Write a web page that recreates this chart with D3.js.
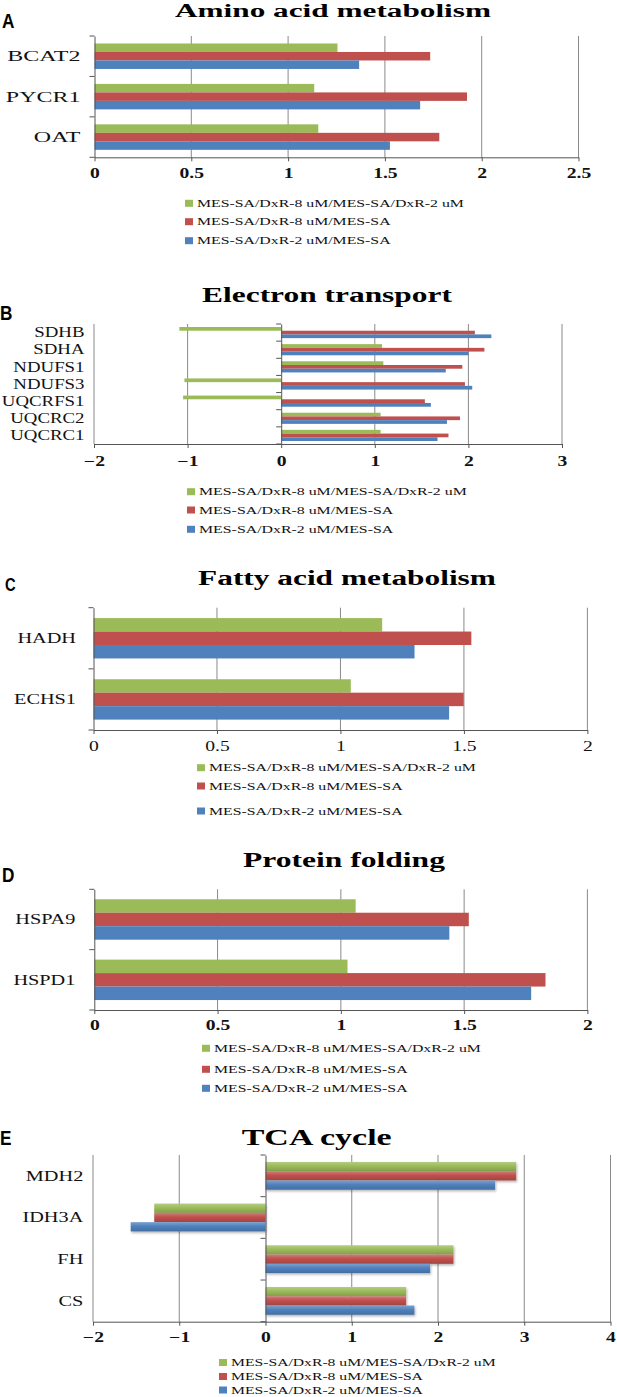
<!DOCTYPE html>
<html><head><meta charset="utf-8">
<script src="https://cdn.jsdelivr.net/npm/d3@7"></script>
<style>html,body{margin:0;padding:0;background:#fff}svg{display:block}</style>
</head><body>
<svg id="chart" width="617" height="1397"></svg>
<script>
// ---------- DATA ----------
const seriesNames = ["MES-SA/DxR-8 uM/MES-SA/DxR-2 uM", "MES-SA/DxR-8 uM/MES-SA", "MES-SA/DxR-2 uM/MES-SA"];
const seriesColors = ["#9BBB59", "#C0504D", "#4F81BD"];

const titleA = "Amino acid metabolism";
const catsA = ["BCAT2", "PYCR1", "OAT"];
const greenA = [1.255, 1.135, 1.156];
const redA = [1.734, 1.924, 1.781];
const blueA = [1.367, 1.682, 1.526];
const ticksA = [0, 0.5, 1, 1.5, 2, 2.5];

const titleB = "Electron transport";
const catsB = ["SDHB", "SDHA", "NDUFS1", "NDUFS3", "UQCRFS1", "UQCRC2", "UQCRC1"];
const greenB = [-1.088, 1.077, 1.091, -1.034, -1.048, 1.062, 1.062];
const redB = [2.069, 2.171, 1.935, 1.963, 1.535, 1.91, 1.787];
const blueB = [2.245, 2.0, 1.758, 2.041, 1.599, 1.771, 1.67];
const ticksB = [-2, -1, 0, 1, 2, 3];

const titleC = "Fatty acid metabolism";
const catsC = ["HADH", "ECHS1"];
const greenC = [1.169, 1.042];
const redC = [1.53, 1.499];
const blueC = [1.30, 1.44];
const ticksC = [0, 0.5, 1, 1.5, 2];

const titleD = "Protein folding";
const catsD = ["HSPA9", "HSPD1"];
const greenD = [1.06, 1.027];
const redD = [1.519, 1.83];
const blueD = [1.44, 1.772];
const ticksD = [0, 0.5, 1, 1.5, 2];

const titleE = "TCA cycle";
const catsE = ["MDH2", "IDH3A", "FH", "CS"];
const greenE = [2.906, -1.29, 2.179, 1.63];
const redE = [2.906, -1.29, 2.179, 1.63];
const blueE = [2.662, -1.563, 1.908, 1.726];
const ticksE = [-2, -1, 0, 1, 2, 3, 4];

// ---------- LAYOUT ----------
const svg = d3.select("#chart");
svg.append("rect").attr("width", 617).attr("height", 1397).attr("fill", "#fff");
const defs = svg.append("defs");
seriesColors.forEach((c, i) => {
  const g = defs.append("linearGradient").attr("id", "grad" + i).attr("x1", 0).attr("y1", 0).attr("x2", 0).attr("y2", 1);
  g.append("stop").attr("offset", "0%").attr("stop-color", d3.interpolateRgb(c, "#fff")(0.25));
  g.append("stop").attr("offset", "45%").attr("stop-color", c);
  g.append("stop").attr("offset", "100%").attr("stop-color", d3.interpolateRgb(c, "#000")(0.15));
});
const shadow = defs.append("filter").attr("id", "shadow").attr("x", "-5%").attr("y", "-20%").attr("width", "115%").attr("height", "160%");
shadow.append("feDropShadow").attr("dx", 1).attr("dy", 1.5).attr("stdDeviation", 1).attr("flood-color", "#000").attr("flood-opacity", 0.3);

const SERIF = "'Liberation Serif', 'Times New Roman', serif";

function stretchText(g, x, y, str, o) {
  const t = g.append("text")
    .attr("font-family", o.family || SERIF)
    .attr("font-size", o.size)
    .attr("font-weight", o.weight || "normal")
    .attr("text-anchor", o.anchor || "start")
    .attr("dominant-baseline", o.baseline || "auto")
    .attr("fill", o.fill || "#111")
    .text(str);
  let sx = o.sx || 1;
  if (o.width) sx = o.width / t.node().getComputedTextLength();
  t.attr("transform", `translate(${x},${y}) scale(${sx},1)`);
  return sx;
}

function panel(p) {
  const g = svg.append("g");
  const x = d3.scaleLinear().domain([p.ticks[0], p.ticks[p.ticks.length - 1]]).range([p.x0, p.x1]);
  const y = d3.scaleBand().domain(p.cats).range([p.top, p.bottom]).padding(0);
  const bw = y.bandwidth();
  const inner = d3.scaleBand().domain([0, 1, 2]).range([bw * (1 - p.frac) / 2, bw * (1 + p.frac) / 2]).padding(0);

  // gridlines
  g.append("g").selectAll("line").data(p.ticks.filter(t => t !== 0)).join("line")
    .attr("x1", d => x(d)).attr("x2", d => x(d))
    .attr("y1", p.top).attr("y2", p.bottom)
    .attr("stroke", "#8a8a8a").attr("stroke-width", 1);

  // bars
  const series = [p.green, p.red, p.blue];
  series.forEach((vals, si) => {
    g.append("g").selectAll("rect").data(vals).join("rect")
      .attr("x", d => x(Math.min(0, d)))
      .attr("width", d => Math.abs(x(d) - x(0)))
      .attr("y", (d, i) => y(p.cats[i]) + inner(si))
      .attr("height", inner.bandwidth())
      .attr("fill", p.gradient ? `url(#grad${si})` : seriesColors[si])
      .attr("filter", p.gradient ? "url(#shadow)" : null);
  });

  // bottom axis
  const ax = g.append("g").attr("transform", `translate(0,${p.bottom})`)
    .call(d3.axisBottom(x).tickValues(p.ticks).tickSize(4).tickSizeOuter(0).tickFormat(d3.format("")));
  ax.select(".domain").attr("stroke", "#555");
  ax.selectAll(".tick line").attr("stroke", "#555");
  ax.selectAll(".tick text")
    .attr("font-family", SERIF).attr("font-size", 14)
    .attr("font-weight", p.tickWeight).attr("fill", "#111")
    .attr("y", p.tickDy).attr("dy", "0.35em")
    .attr("transform", `scale(${p.tickSx},1)`);

  // category axis at x=0
  const ay = g.append("g").attr("transform", `translate(${x(0)},0)`)
    .call(d3.axisLeft(y).tickSize(0).tickSizeOuter(0).tickFormat(""));
  ay.select(".domain").attr("stroke", "#555");
  const bounds = p.cats.map(c => y(c)).concat([p.bottom]);
  g.append("g").selectAll("line").data(bounds).join("line")
    .attr("x1", x(0) - 5).attr("x2", x(0))
    .attr("y1", d => d).attr("y2", d => d)
    .attr("stroke", "#555");

  // category labels
  p.cats.forEach(c => {
    stretchText(g, p.labelX, y(c) + bw / 2, c, { size: p.labelSize || 14.5, sx: p.labelSx || 1.4, anchor: "end", baseline: "central" });
  });

  // title
  stretchText(g, p.titleX, p.titleY, p.title, { size: p.titleSize, weight: "bold", anchor: "middle", width: p.titleW, fill: "#000" });

  // panel letter
  stretchText(g, p.letterX, p.letterY, p.letter, { family: "'Liberation Sans', Arial, sans-serif", size: p.letterSize || 21, weight: "bold", sx: 0.82, fill: "#000" });

  // legend
  let lsx = null;
  seriesNames.forEach((nm, i) => {
    const cy = p.legY[i];
    g.append("rect").attr("x", p.legX).attr("y", cy - 3.5).attr("width", 8).attr("height", 7).attr("fill", seriesColors[i]);
    const s = stretchText(g, p.legX + 12, cy, nm, { size: p.legSize || 11, anchor: "start", baseline: "central", width: i === 0 ? p.legW : null, sx: lsx });
    if (i === 0) lsx = s;
  });
}

panel({ letter: "A", letterX: 2, letterY: 28, title: titleA, titleX: 333, titleY: 17, titleSize: 19, titleW: 316,
  cats: catsA, green: greenA, red: redA, blue: blueA, ticks: ticksA,
  x0: 94.5, x1: 578.5, top: 36, bottom: 157.3, frac: 0.63, labelX: 80.5, labelSize: 15, labelSx: 1.6,
  tickWeight: "bold", tickSx: 1.4, tickDy: 16, legX: 185, legY: [203.3, 221.7, 240.7], legW: 267 });

panel({ letter: "B", letterX: 0, letterY: 320, title: titleB, titleX: 327, titleY: 301.7, titleSize: 21, titleW: 250,
  cats: catsB, green: greenB, red: redB, blue: blueB, ticks: ticksB,
  x0: 94, x1: 562, top: 324, bottom: 444, frac: 0.65, labelX: 84.5, labelSx: 1.3,
  tickWeight: "bold", tickSx: 1.4, tickDy: 16.7, legX: 187, legY: [491.7, 510, 529.3], legW: 268 });

panel({ letter: "C", letterX: 5, letterY: 591, letterSize: 18, title: titleC, titleX: 347, titleY: 585, titleSize: 20, titleW: 298,
  cats: catsC, green: greenC, red: redC, blue: blueC, ticks: ticksC,
  x0: 93.5, x1: 587.4, top: 607.7, bottom: 730, frac: 0.66, labelX: 76,
  tickWeight: "normal", tickSx: 1.4, tickDy: 15.7, legX: 197, legY: [767.7, 786, 811], legW: 267 });

panel({ letter: "D", letterX: 2, letterY: 882, title: titleD, titleX: 344, titleY: 866.7, titleSize: 20, titleW: 202,
  cats: catsD, green: greenD, red: redD, blue: blueD, ticks: ticksD,
  x0: 94.3, x1: 587.4, top: 889.3, bottom: 1010, frac: 0.67, labelX: 75.4,
  tickWeight: "bold", tickSx: 1.4, tickDy: 15, legX: 202, legY: [1048.3, 1069.3, 1088.3], legW: 267 });

panel({ letter: "E", letterX: 0, letterY: 1145, title: titleE, titleX: 316.7, titleY: 1145, titleSize: 23, titleW: 150,
  cats: catsE, green: greenE, red: redE, blue: blueE, ticks: ticksE,
  x0: 93, x1: 610.5, top: 1155, bottom: 1321.7, frac: 0.667, labelX: 83.3, gradient: true,
  tickWeight: "bold", tickSx: 1.4, tickDy: 15, legX: 219, legY: [1362.5, 1376.5, 1390], legSize: 10.5, legW: 265 });
</script>
</body></html>
